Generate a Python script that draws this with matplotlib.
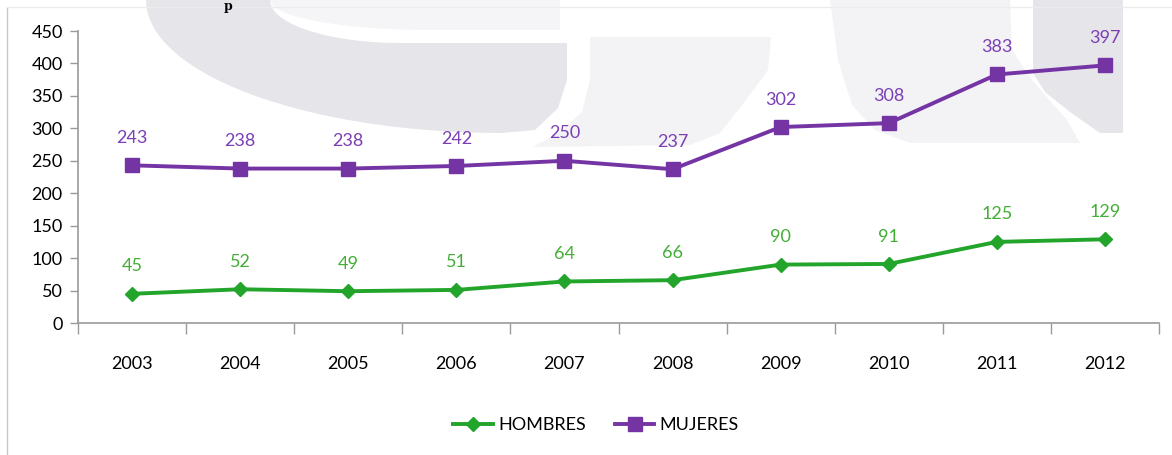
import matplotlib
matplotlib.use("Agg")
import matplotlib.pyplot as plt
from matplotlib.patches import Polygon
import numpy as np

years = ["2003", "2004", "2005", "2006", "2007", "2008", "2009", "2010", "2011", "2012"]
hombres = [45, 52, 49, 51, 64, 66, 90, 91, 125, 129]
mujeres = [243, 238, 238, 242, 250, 237, 302, 308, 383, 397]
yticks = [0, 50, 100, 150, 200, 250, 300, 350, 400, 450]

plt.rcParams['font.family'] = ['Lato', 'DejaVu Sans']

W, H = 1172, 455
fig = plt.figure(figsize=(W / 100, H / 100), dpi=100)

# background watermark shapes, drawn in pixel coordinates of the figure
wm = fig.add_axes([0, 0, 1, 1], zorder=0)
wm.set_xlim(0, W); wm.set_ylim(H, 0); wm.axis('off')

def arc(cx, cy, rx, ry, a0, a1, n=30):
    a = np.linspace(a0, a1, n)
    return list(zip(cx + rx * np.cos(a), cy + ry * np.sin(a)))

dark = '#e5e5ea'
light = '#f3f3f6'
# faint band above crescent
wm.add_patch(Polygon(arc(430, 0, 160, 30, np.pi, np.pi / 2) + [(560, 30), (560, 0)],
                     closed=True, fc='#f5f5f7', ec='none'))
# left crescent
outer = arc(502, 0, 356, 133, np.pi, np.pi / 2)          # (146,0) -> (502,133)
crescent = outer + [(535, 130), (558, 108), (567, 80), (567, 43), (400, 43)] + \
    arc(400, 0, 130, 43, np.pi / 2, np.pi)
wm.add_patch(Polygon(crescent, closed=True, fc=dark, ec='none'))
# lighter block in the middle
wm.add_patch(Polygon([(590, 37), (771, 37), (768, 70), (746, 100), (720, 133), (690, 145),
                      (533, 147), (560, 132), (582, 112), (590, 80)], closed=True, fc=light, ec='none'))
# right light circle
wm.add_patch(Polygon([(830, 0), (1010, 0), (1012, 50), (1032, 80), (1067, 120), (1080, 143),
                      (910, 143), (875, 130), (852, 105), (838, 60)], closed=True, fc=light, ec='none'))
# right darker corner
wm.add_patch(Polygon([(1033, 0), (1123, 0), (1123, 133), (1100, 133), (1070, 112), (1045, 92),
                      (1033, 73)], closed=True, fc=dark, ec='none'))
# frame lines
wm.plot([7, 7], [8, H], color='#c8c8c8', lw=1)
wm.plot([7, W], [7, 7], color='#ececec', lw=1)
wm.text(228, 0, "p", fontsize=9, fontweight='bold', family='DejaVu Serif', ha='center', va='top', color='black')

ax = fig.add_axes([78 / W, 1 - 323 / H, (1159 - 78) / W, (323 - 31) / H], zorder=1)
ax.patch.set_alpha(0)
x = np.arange(len(years))

green = '#22a52a'
purple = '#7434a4'
ax.plot(x, hombres, color=green, lw=2.8, marker='D', ms=7.5, label='HOMBRES', zorder=3)
ax.plot(x, mujeres, color=purple, lw=2.8, marker='s', ms=9.5, label='MUJERES', zorder=3)

for xi, v in zip(x, hombres):
    ax.annotate(str(v), (xi, v), xytext=(0, 14), textcoords='offset points', ha='center', va='bottom',
                fontsize=13, color='#42ae36')
for xi, v in zip(x, mujeres):
    ax.annotate(str(v), (xi, v), xytext=(0, 14), textcoords='offset points', ha='center', va='bottom',
                fontsize=13, color='#7b3fb5')

ax.set_xlim(-0.5, len(years) - 0.5)
ax.set_ylim(0, 450)
ax.set_yticks(yticks)
ax.set_yticklabels([str(v) for v in yticks], fontsize=13)
ax.set_xticks(x)
ax.set_xticklabels(years, fontsize=13)
ax.tick_params(axis='x', length=0, pad=24)
ax.set_xticks(np.arange(-0.5, len(years), 1), minor=True)
ax.tick_params(axis='x', which='minor', length=8, color='#9a9a9a', width=1)
ax.tick_params(axis='y', length=6, color='#9a9a9a', width=1, pad=5)
for s in ['top', 'right']:
    ax.spines[s].set_visible(False)
for s in ['left', 'bottom']:
    ax.spines[s].set_color('#9a9a9a')
    ax.spines[s].set_linewidth(1.2)

leg = fig.legend(loc='center', bbox_to_anchor=(596 / W, 1 - 425 / H), ncol=2, frameon=False,
                 fontsize=13, handlelength=2.2, columnspacing=1.6, handletextpad=0.3)

fig.savefig('out.png', dpi=100)
